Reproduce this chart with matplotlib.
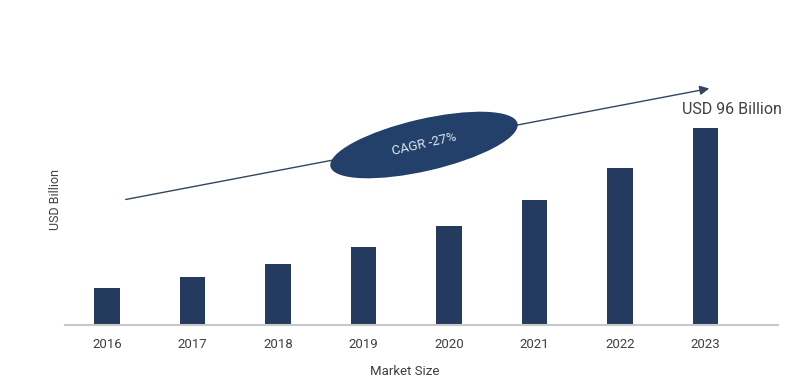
import matplotlib.pyplot as plt
from matplotlib.patches import Ellipse
from matplotlib.transforms import IdentityTransform

years = ['2016', '2017', '2018', '2019', '2020', '2021', '2022', '2023']
market_size = [18, 23.4, 29.7, 38, 48.2, 61, 76.5, 96]

bar_color = '#243a5e'
text_color = '#404040'

plt.rcParams['font.family'] = ['Roboto', 'DejaVu Sans']

fig = plt.figure(figsize=(8, 3.9), dpi=100)
# axes placed to match the reference pixel layout
ax = fig.add_axes([65 / 800, 65 / 390, 713 / 800, 305 / 390])

x = list(range(len(years)))
ax.bar(x, market_size, width=0.30, color=bar_color, zorder=2)

ax.set_xlim(-0.49, 7.85)
ax.set_ylim(0, 148.6)
ax.set_xticks(x)
ax.set_xticklabels(years, fontsize=9.5, color=text_color)
ax.tick_params(axis='x', length=0, pad=9)
ax.set_yticks([])
for side in ['top', 'right', 'left']:
    ax.spines[side].set_visible(False)
ax.spines['bottom'].set_color('#c8c8c8')
ax.spines['bottom'].set_linewidth(1.5)

ax.set_xlabel('Market Size', fontsize=9.5, color=text_color)
ax.xaxis.set_label_coords((405 - 65) / 713, -40 / 305)
fig.text(55 / 800, 1 - 200 / 390, 'USD Billion', rotation=90, fontsize=9,
         color=text_color, ha='center', va='center')

# growth arrow (coordinates in pixels of the output image)
def px(xp, yp):
    return (xp, 390 - yp)

ax.annotate('', xy=px(712, 88), xytext=px(123, 200),
            xycoords='figure pixels', textcoords='figure pixels',
            arrowprops=dict(arrowstyle='-|>', color='#33465f', lw=1.0,
                            mutation_scale=14), zorder=3)

ell = Ellipse(px(424, 145), 192, 52, angle=13, transform=IdentityTransform(),
              facecolor='#22406a', edgecolor='none', zorder=4)
fig.patches.append(ell)
fig.text(424 / 800, 1 - 144 / 390, 'CAGR -27%', rotation=13, fontsize=9.5,
         color='#dde6f0', ha='center', va='center', zorder=5)

fig.text(732 / 800, 1 - 109 / 390, 'USD 96 Billion', fontsize=11.5,
         color=text_color, ha='center', va='center')

fig.savefig('out.png', dpi=100)
